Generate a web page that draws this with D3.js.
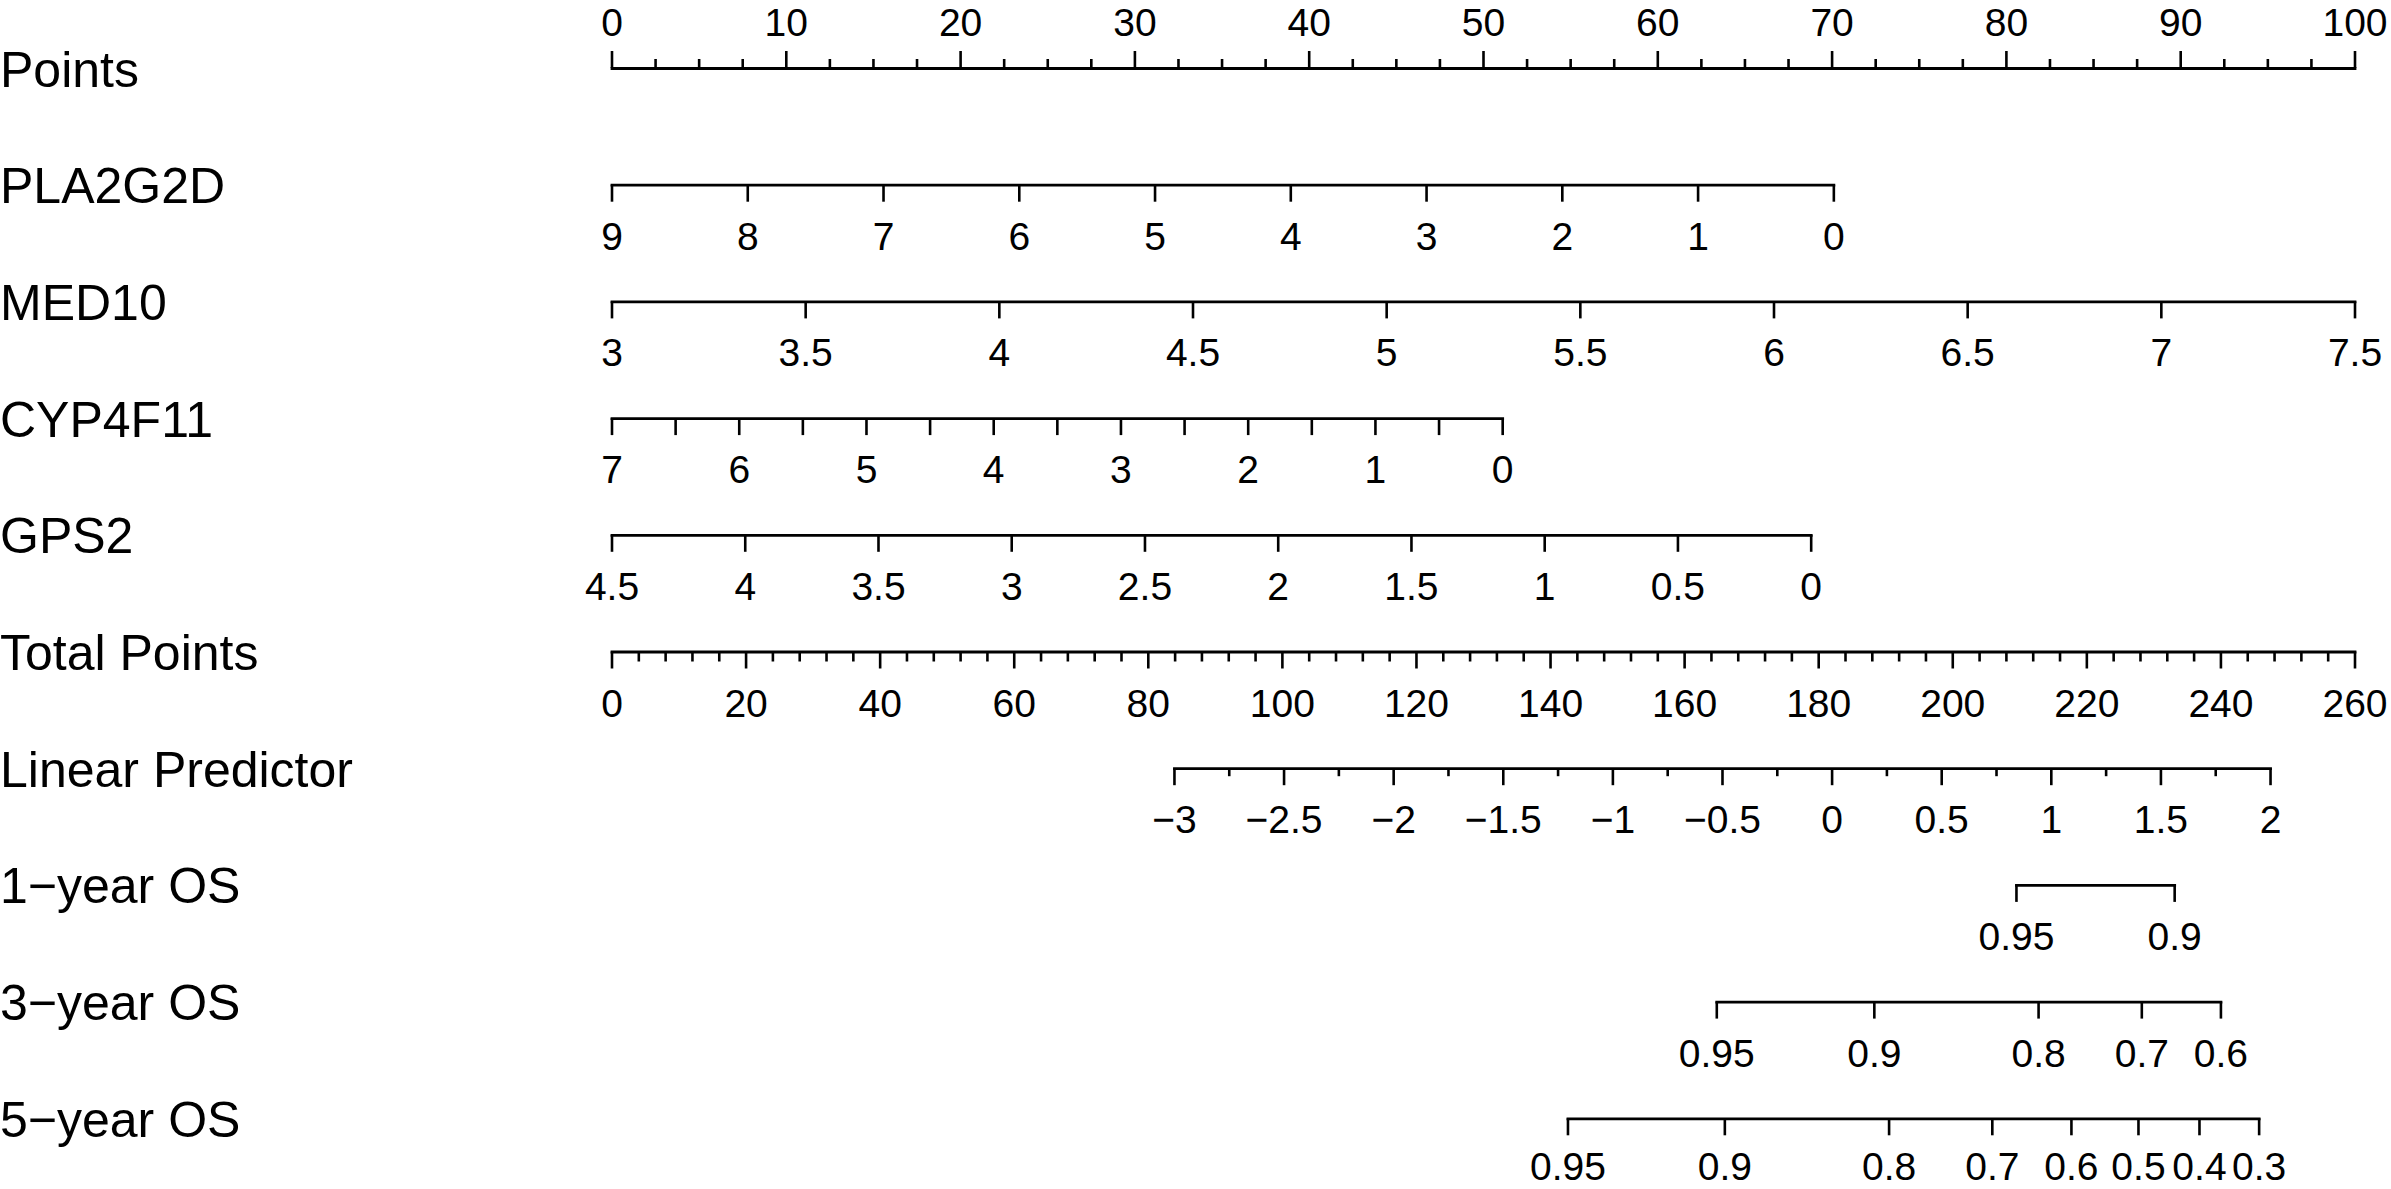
<!DOCTYPE html>
<html><head><meta charset="utf-8">
<script src="https://cdn.jsdelivr.net/npm/d3@7"></script>
<style>body{margin:0;background:#fff}svg{display:block}</style>
</head><body>
<script>
// ---- data ----
const rowLabels = ["Points","PLA2G2D","MED10","CYP4F11","GPS2","Total Points","Linear Predictor","1\u2212year OS","3\u2212year OS","5\u2212year OS"];

const pointsTicks = [0,10,20,30,40,50,60,70,80,90,100];

const pla2g2dTicks = [9,8,7,6,5,4,3,2,1,0];
const pla2g2dDomain = [9,0];
const pla2g2dPoints = [0,70.1];

const med10Ticks = [3,3.5,4,4.5,5,5.5,6,6.5,7,7.5];
const med10Domain = [3,7.5];
const med10Points = [0,100];

const cyp4f11Ticks = [7,6,5,4,3,2,1,0];
const cyp4f11HalfTicks = [6.5,5.5,4.5,3.5,2.5,1.5,0.5];
const cyp4f11Domain = [7,0];
const cyp4f11Points = [0,51.1];

const gps2Ticks = [4.5,4,3.5,3,2.5,2,1.5,1,0.5,0];
const gps2Domain = [4.5,0];
const gps2Points = [0,68.8];

const totalTicks = [0,20,40,60,80,100,120,140,160,180,200,220,240,260];

const lpTicks = [-3,-2.5,-2,-1.5,-1,-0.5,0,0.5,1,1.5,2];
const lpDomain = [-3,2];
const lpTotal = [83.9,247.4];

const os1Labels = ["0.95","0.9"];
const os1Total = [209.5,233.1];
const os3Labels = ["0.95","0.9","0.8","0.7","0.6"];
const os3Total = [164.8,188.3,212.8,228.2,240.0];
const os5Labels = ["0.95","0.9","0.8","0.7","0.6","0.5","0.4","0.3"];
const os5Total = [142.6,166.0,190.5,205.9,217.7,227.7,236.8,245.7];

// ---- layout ----
const W = 2391, H = 1189;
const X0 = 611.5, X1 = 2354.5;
const rowY0 = 68, rowStep = 116.7;
const rowY = i => rowY0 + i*rowStep;
const FONT = "'Liberation Sans', Arial, Helvetica, sans-serif";

const svg = d3.select("body").append("svg").attr("width",W).attr("height",H)
  .style("background","#fff");

const ptsX = d3.scaleLinear().domain([0,100]).range([X0,X1]);
const totX = d3.scaleLinear().domain([0,260]).range([X0,X1]);

const fmt = d => String(d).replace("-","\u2212");

// row labels
svg.append("g").selectAll("text").data(rowLabels).join("text")
  .attr("x",0).attr("y",(d,i)=>rowY(i)+18.5)
  .attr("font-family",FONT).attr("font-size",50).attr("fill","#000")
  .text(d=>d);

function drawAxis(row, scale, o) {
  const g = svg.append("g").attr("transform",`translate(0,${rowY(row)})`);
  const mk = o.top ? d3.axisTop : d3.axisBottom;
  if (o.minor) {
    const gm = g.append("g").call(mk(scale).tickValues(o.minor).tickSize(o.minorLen).tickSizeOuter(0).tickFormat(""));
    gm.select(".domain").remove();
    gm.selectAll("line").attr("stroke","#000").attr("stroke-width",2.6);
  }
  const ax = mk(scale).tickValues(o.major).tickSize(17).tickSizeOuter(0).tickFormat(o.fmt || fmt);
  const ga = g.append("g").call(ax);
  ga.attr("font-size",null).attr("font-family",null);
  ga.selectAll("line").attr("stroke","#000").attr("stroke-width",2.6);
  ga.select(".domain").attr("stroke","#000").attr("stroke-width",2.8).attr("stroke-linecap","square");
  ga.selectAll("text").attr("y", o.labelY != null ? o.labelY : (o.top ? -36 : 65)).attr("dy",null)
    .attr("font-family",FONT).attr("font-size",39).attr("fill","#000");
}

// Points
drawAxis(0, ptsX, {top:true, major:pointsTicks, labelY:-32,
  minor:d3.range(0,100.01,2.5).filter(v=>v%10!==0), minorLen:9});

// variables
function varScale(domain, pts){
  return d3.scaleLinear().domain(domain).range(pts.map(ptsX));
}
drawAxis(1, varScale(pla2g2dDomain,pla2g2dPoints), {major:pla2g2dTicks});
drawAxis(2, varScale(med10Domain,med10Points), {major:med10Ticks});
drawAxis(3, varScale(cyp4f11Domain,cyp4f11Points), {major:cyp4f11Ticks, minor:cyp4f11HalfTicks, minorLen:17});
drawAxis(4, varScale(gps2Domain,gps2Points), {major:gps2Ticks});

// Total points
drawAxis(5, totX, {major:totalTicks, minor:d3.range(0,261,4).filter(v=>v%20!==0), minorLen:10});

// Linear predictor
const lpX = d3.scaleLinear().domain(lpDomain).range(lpTotal.map(totX));
drawAxis(6, lpX, {major:lpTicks, minor:d3.range(-3,2.01,0.25).filter(v=>Math.abs(v*2-Math.round(v*2))>1e-6), minorLen:8});

// OS rows (positions on total points scale)
function osAxis(row, totals, labels, labelY){
  const ext = d3.extent(totals);
  const s = d3.scaleLinear().domain(ext).range(ext.map(totX));
  drawAxis(row, s, {major:totals, fmt:(d,i)=>labels[i], labelY:labelY});
}
osAxis(7, os1Total, os1Labels);
osAxis(8, os3Total, os3Labels);
osAxis(9, os5Total, os5Labels, 62);
</script>
</body></html>
